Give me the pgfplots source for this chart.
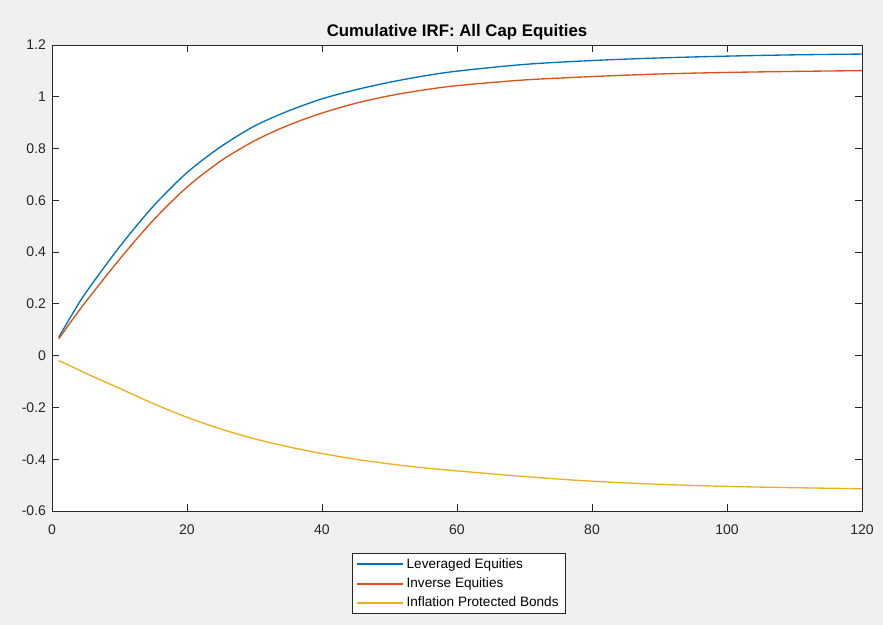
\documentclass[border=0pt]{standalone}
\usepackage{pgfplots}
\pgfplotsset{compat=1.18}
\usepackage{pgfplotstable}
\usepackage{fontspec}
\setmainfont{Liberation Sans}

\definecolor{figbg}{HTML}{F0F0F0}
\definecolor{axgray}{HTML}{262626}
\definecolor{mblue}{HTML}{0072BD}
\definecolor{morange}{HTML}{D95319}
\definecolor{myellow}{HTML}{EDB120}

% Cumulative impulse responses, horizon 1..120
\pgfplotstableread{
h    lev     inv     ipb
1    0.071   0.065   -0.019
3    0.160   0.138   -0.043
5    0.243   0.208   -0.068
10   0.420   0.372   -0.126
15   0.577   0.523   -0.185
20   0.707   0.651   -0.238
25   0.807   0.752   -0.283
30   0.887   0.830   -0.321
35   0.945   0.890   -0.352
40   0.992   0.937   -0.378
45   1.027   0.975   -0.400
50   1.056   1.004   -0.418
55   1.080   1.026   -0.433
60   1.099   1.043   -0.445
70   1.125   1.065   -0.467
80   1.140   1.078   -0.485
90   1.150   1.088   -0.497
100  1.157   1.094   -0.505
110  1.162   1.098   -0.510
120  1.165   1.101   -0.514
}\irf

\begin{document}
\begin{tikzpicture}
% figure background (1px = 0.75pt)
\fill[figbg] (-39pt,-85.5pt) rectangle (623.25pt,383.25pt);
\begin{axis}[
  scale only axis,
  width=607.5pt, height=349.5pt,
  xmin=0, xmax=120, ymin=-0.6, ymax=1.2,
  xtick={0,20,40,60,80,100,120},
  ytick={-0.6,-0.4,-0.2,0,0.2,0.4,0.6,0.8,1,1.2},
  tick align=inside,
  major tick length=5pt,
  axis line style={axgray, line width=0.6pt},
  every tick/.style={axgray, line width=0.6pt},
  tick label style={font=\fontsize{10.5}{12}\selectfont, text=axgray},
  /pgf/number format/assume math mode=true,
  yticklabel style={/pgf/number format/fixed, xshift=-1pt},
  xticklabel style={yshift=-6.5pt},
  axis background/.style={fill=white},
  title={\bfseries Cumulative IRF: All Cap Equities},
  title style={font=\fontsize{12.6}{14}\selectfont, yshift=-6pt},
  legend style={
    at={(0.502,0)}, anchor=north, yshift=-31.5pt,
    draw=axgray, fill=white, line width=0.5pt,
    font=\fontsize{10.2}{12}\selectfont,
    row sep=1.5pt, inner xsep=3pt, inner ysep=1.8pt,
    nodes={inner xsep=2pt},
  },
  legend cell align=left,
  legend image code/.code={\draw[#1, line width=1.5pt] (0pt,0pt) -- (34.5pt,0pt);},
  every axis plot/.append style={line width=1pt, smooth, tension=0.5},
]
\addplot[mblue] table[x=h, y=lev] {\irf};
\addplot[morange] table[x=h, y=inv] {\irf};
\addplot[myellow] table[x=h, y=ipb] {\irf};
\legend{Leveraged Equities, Inverse Equities, Inflation Protected Bonds}
\end{axis}
\end{tikzpicture}
\end{document}
